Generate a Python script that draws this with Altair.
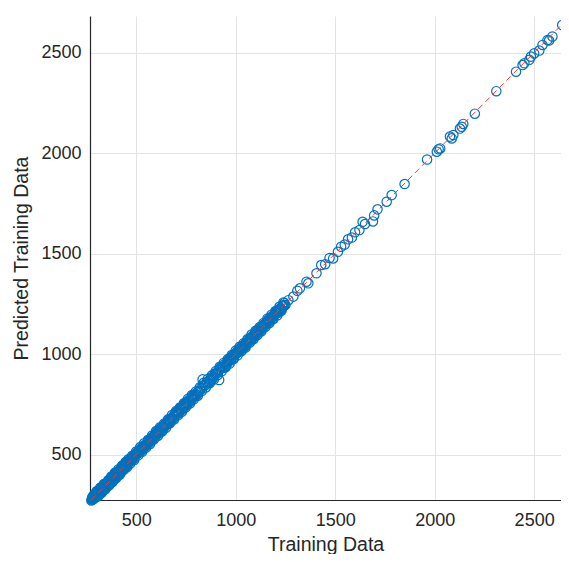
import altair as alt
import pandas as pd

# Training data (x) and predicted training data (y)
train = [275, 280, 283, 287, 290, 294, 297, 300, 303, 306, 309, 312, 315, 318, 321, 324, 327, 330,
         333, 336, 339, 342, 345, 348, 351, 354, 357, 360, 363, 366, 369, 372, 375, 378, 381, 384,
         387, 390, 393, 396, 399, 402, 405, 408, 411, 414, 417, 420, 423, 426, 429, 432, 435, 438,
         441, 445, 449, 453, 458, 463, 468, 474, 480, 486, 492, 499, 506, 513, 520, 528, 535, 543,
         551, 559, 567, 575, 584, 592, 601, 610, 619, 628, 637, 646, 656, 665, 675, 685, 695, 705,
         715, 725, 736, 746, 757, 767, 778, 789, 800, 811, 822, 834, 845, 856, 867, 878, 889, 900,
         911, 917, 922, 933, 944, 955, 966, 977, 988, 999, 1010, 1020, 1030, 1040, 1050, 1060, 1070,
         1080, 1090, 1100, 1110, 1119, 1128, 1137, 1146, 1155, 1164, 1173, 1182, 1191, 1200, 1209,
         1218, 1227, 1236, 1244,
         277, 279, 281, 283, 285, 287, 289, 291, 293, 295,
         297, 299, 301, 303, 305, 307, 309, 311, 313, 315,
         317, 319, 321, 323, 325, 327, 329, 331, 333, 335,
         337, 339, 341, 343, 345, 347, 349, 351, 353, 355,
         357, 359, 361, 363, 365, 367, 369, 371, 373, 375,
         377, 379, 381, 383, 385, 387, 389, 391, 393, 395,
         397, 399, 401, 403, 405, 407, 409, 411, 413, 415,
         417, 419, 421, 423, 425, 427, 429, 431, 433, 435,
         437, 439, 441, 443, 445, 447, 449, 451, 453, 455,
         455, 460, 465, 470, 475, 480, 485, 490, 495, 500,
         505, 510, 515, 520, 525, 530, 535, 540, 545, 550,
         555, 560, 565, 570, 575, 580, 585, 590, 595, 600,
         605, 610, 615, 620, 625, 630, 635, 640, 645, 650,
         655, 660, 665, 670, 675, 680, 685, 690, 695, 700,
         705, 710, 715, 720, 725, 730, 735, 740, 745, 750,
         755, 760, 765, 770, 775, 780, 785, 790, 795, 800,
         805, 815, 825, 835, 845, 855, 865, 875, 885, 895,
         905, 915, 925, 935, 945,
         955, 960, 965, 970, 975, 980, 985, 990, 995, 1000,
         1005, 1010, 1015, 1020, 1025, 1030, 1035, 1040, 1045, 1050,
         1055, 1060, 1065, 1070, 1075, 1080, 1085, 1090, 1095, 1100,
         1105, 1110, 1115, 1120, 1125, 1130, 1135, 1140, 1145, 1150,
         1155, 1160, 1165, 1170, 1175, 1180, 1185, 1190, 1195, 1200,
         1205, 1210, 1215, 1220, 1225, 1230, 1235, 1240, 1245, 1250,
         460, 470, 480, 490, 500, 510, 520, 530,
         540, 550, 560, 570, 580, 590, 600, 610,
         620, 630, 640, 650, 660, 670, 680, 690,
         700, 710, 720, 730, 740, 750, 760, 770,
         780, 790, 800, 810, 820, 830, 840, 850,
         860, 870, 880, 890, 900, 910, 920, 930,
         940, 950, 960, 970, 980, 990, 1000, 1010,
         1020, 1030, 1040, 1050, 1060, 1070, 1080, 1090,
         1100, 1110, 1120, 1130, 1140, 1150, 1160, 1170,
         1180, 1190, 1200, 1210, 1220, 1230, 1240,
         1265, 1290, 1310, 1323, 1356, 1365, 1406, 1430, 1450, 1472, 1490, 1514, 1530, 1548, 1565,
         1584, 1600, 1622, 1638, 1650, 1690, 1696, 1713, 1759, 1784, 1849, 1962, 2011, 2020, 2028,
         2077, 2086, 2094, 2127, 2136, 2144, 2202, 2310, 2409, 2442, 2451, 2476, 2484, 2500, 2526,
         2542, 2567, 2575, 2592, 2641]
predicted = [272, 284, 279, 290, 288, 297, 293, 305, 299, 310, 306, 315, 311, 321, 318, 327, 323, 334,
             329, 340, 337, 346, 341, 352, 349, 357, 352, 364, 361, 370, 365, 376, 373, 382, 377, 388,
             384, 394, 391, 400, 396, 406, 403, 414, 409, 418, 415, 426, 421, 431, 428, 437, 433, 442,
             439, 451, 446, 458, 455, 467, 466, 478, 477, 492, 489, 504, 503, 518, 516, 534, 532, 548,
             549, 566, 563, 582, 580, 598, 597, 617, 614, 636, 633, 652, 652, 673, 670, 690, 692, 710,
             712, 733, 733, 751, 753, 772, 776, 795, 797, 815, 819, 874, 842, 861, 864, 884, 887, 904,
             908, 871, 927, 930, 949, 952, 971, 974, 993, 996, 1015, 1017, 1035, 1038, 1055, 1058, 1075,
             1077, 1095, 1097, 1114, 1117, 1133, 1135, 1151, 1153, 1169, 1171, 1187, 1189, 1205, 1207,
             1223, 1225, 1241, 1242,
             277, 287, 277, 293, 279, 290, 301, 283, 299, 294,
             305, 295, 317, 293, 308, 319, 292, 317, 312, 301,
             313, 335, 311, 326, 337, 310, 335, 330, 319, 343,
             353, 329, 344, 355, 328, 353, 348, 337, 361, 351,
             347, 362, 373, 346, 371, 366, 355, 379, 369, 391,
             380, 391, 364, 389, 384, 373, 397, 387, 409, 385,
             409, 382, 407, 402, 391, 415, 405, 427, 403, 418,
             400, 425, 420, 409, 433, 423, 445, 421, 436, 447,
             443, 438, 427, 451, 441, 463, 439, 454, 465, 438,
             447, 465, 463, 479, 469, 481, 492, 481, 499, 500,
             510, 508, 524, 514, 526, 537, 526, 544, 545, 542,
             553, 569, 559, 571, 582, 571, 589, 590, 587, 605,
             614, 604, 616, 627, 616, 634, 635, 632, 650, 648,
             649, 661, 672, 661, 679, 680, 677, 695, 693, 709,
             706, 717, 706, 724, 725, 722, 740, 738, 754, 744,
             762, 751, 769, 770, 767, 785, 783, 799, 789, 801,
             796, 815, 830, 844, 846, 859, 857, 873, 879, 902,
             905, 920, 934, 936, 936,
             947, 965, 963, 979, 969, 981, 992, 981, 999, 1000,
             1010, 1008, 1024, 1014, 1026, 1037, 1026, 1044, 1045, 1042,
             1053, 1069, 1059, 1071, 1082, 1071, 1089, 1090, 1087, 1105,
             1114, 1104, 1116, 1127, 1116, 1134, 1135, 1132, 1150, 1148,
             1149, 1161, 1172, 1161, 1179, 1180, 1177, 1195, 1193, 1209,
             1206, 1217, 1206, 1224, 1225, 1222, 1240, 1238, 1254, 1244,
             476, 455, 494, 473, 515, 496, 537, 514,
             556, 535, 574, 553, 595, 576, 617, 594,
             636, 615, 654, 633, 675, 656, 697, 674,
             716, 695, 734, 713, 755, 736, 777, 754,
             796, 775, 814, 793, 835, 816, 857, 834,
             876, 855, 894, 873, 915, 896, 937, 914,
             956, 935, 974, 953, 995, 976, 1017, 994,
             1036, 1015, 1054, 1033, 1075, 1056, 1097, 1074,
             1116, 1095, 1134, 1113, 1155, 1136, 1177, 1154,
             1196, 1175, 1214, 1193, 1235, 1216, 1257,
             1268, 1286, 1315, 1327, 1360, 1352, 1402, 1443, 1447, 1478, 1476, 1509, 1534, 1545, 1571,
             1580, 1606, 1617, 1658, 1647, 1660, 1690, 1720, 1758, 1791, 1846, 1968, 2007, 2019, 2023,
             2082, 2073, 2090, 2122, 2131, 2145, 2196, 2308, 2405, 2438, 2447, 2464, 2480, 2496, 2510,
             2538, 2562, 2560, 2580, 2637]

# Identity reference line endpoints
line_vals = [275, 2650]

x_domain = [268, 2635]
y_domain = [274, 2682]
tick_vals = [500, 1000, 1500, 2000, 2500]

pts = pd.DataFrame({"x": train, "y": predicted})
ref = pd.DataFrame({"x": line_vals, "y": line_vals})

TXT = "#262626"
FONT = "Liberation Sans"

xs = alt.Scale(domain=x_domain, nice=False, zero=False)
ys = alt.Scale(domain=y_domain, nice=False, zero=False)

x_axis = alt.Axis(values=tick_vals, format="d", title="Training Data", grid=True, ticks=False,
                  labelPadding=11, titleBaseline="alphabetic", titleY=50)
y_axis = alt.Axis(values=tick_vals, format="d", title="Predicted Training Data", grid=True,
                  ticks=False, labelPadding=9, titlePadding=9)

scatter = alt.Chart(pts).mark_point(
    shape="circle", filled=False, size=88, strokeWidth=1.2, color="#0072BD", opacity=1
).encode(
    x=alt.X("x:Q", scale=xs, axis=x_axis),
    y=alt.Y("y:Q", scale=ys, axis=y_axis),
)

line = alt.Chart(ref).mark_line(
    color="#FF3333", strokeWidth=1, strokeDash=[6, 4]
).encode(
    x=alt.X("x:Q", scale=xs),
    y=alt.Y("y:Q", scale=ys),
)

chart = alt.layer(scatter, line).properties(
    width=471, height=484,
    autosize=alt.AutoSizeParams(type="none"),
    padding={"left": 82, "top": 8, "right": 0, "bottom": 54},
).configure_view(
    stroke=None
).configure_axis(
    labelFont=FONT, titleFont=FONT, labelFontSize=18, titleFontSize=19.5,
    labelColor=TXT, titleColor=TXT, titleFontWeight="normal",
    domainColor=TXT, domainWidth=1.2, gridColor="#E3E3E3", gridWidth=1,
)

chart.save("out.html", embed_options={"renderer": "svg", "actions": False})
